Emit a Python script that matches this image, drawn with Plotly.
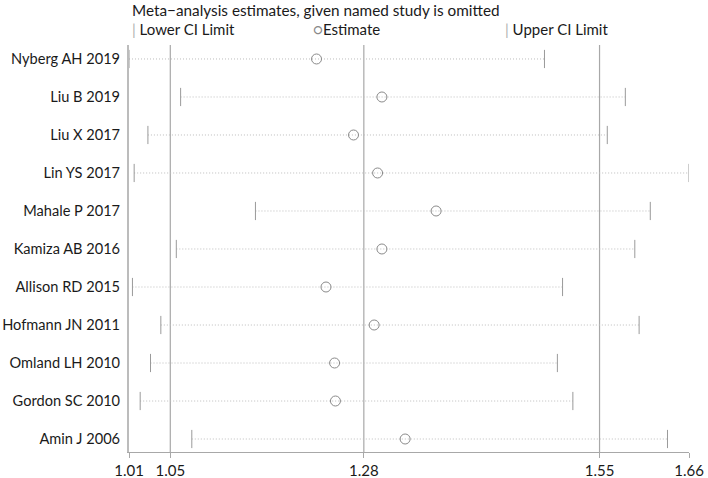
import plotly.graph_objects as go

# ---- data ----
studies = ["Nyberg AH 2019", "Liu B 2019", "Liu X 2017", "Lin YS 2017", "Mahale P 2017",
           "Kamiza AB 2016", "Allison RD 2015", "Hofmann JN 2011", "Omland LH 2010",
           "Gordon SC 2010", "Amin J 2006"]
lower = [1.006, 1.066, 1.028, 1.012, 1.153, 1.061, 1.010, 1.043, 1.031, 1.019, 1.079]
estimate = [1.224, 1.300, 1.267, 1.295, 1.363, 1.300, 1.235, 1.291, 1.245, 1.246, 1.327]
upper = [1.489, 1.583, 1.562, 1.657, 1.612, 1.594, 1.510, 1.599, 1.504, 1.522, 1.632]
overall = [1.054, 1.279, 1.553]          # pooled lower CI, estimate, upper CI
tick_vals = [1.006, 1.054, 1.279, 1.553, 1.657]
tick_text = ["1.01", "1.05", "1.28", "1.55", "1.66"]

FONT = "Lato"
W, H = 708, 478
PLOT_L, PLOT_R, PLOT_T, PLOT_B = 129, 689.5, 45, 452     # target screen pixels
ML, MR = PLOT_L, W - PLOT_R
MT, MB = PLOT_T, H - PLOT_B
PW, PH = PLOT_R - PLOT_L, PLOT_B - PLOT_T

fig = go.Figure()

# dotted connector lines from lower to upper limit
lx, ly = [], []
for s, lo, hi in zip(studies, lower, upper):
    lx += [lo, hi, None]
    ly += [s, s, None]
fig.add_trace(go.Scatter(x=lx, y=ly, mode="lines",
                         line=dict(color="#bdbdbd", width=1, dash="1px,2px"),
                         hoverinfo="skip", showlegend=False))

fig.add_trace(go.Scatter(x=lower, y=studies, mode="markers", name="Lower CI Limit",
                         marker=dict(symbol="line-ns", size=13,
                                     line=dict(color="#9a9a9a", width=1)),
                         showlegend=False))
fig.add_trace(go.Scatter(x=upper, y=studies, mode="markers", name="Upper CI Limit",
                         marker=dict(symbol="line-ns", size=13,
                                     line=dict(color="#9a9a9a", width=1)),
                         showlegend=False))
fig.add_trace(go.Scatter(x=estimate, y=studies, mode="markers", name="Estimate",
                         marker=dict(symbol="circle-open", size=10,
                                     color="#8a8a8a", line=dict(width=1)),
                         showlegend=False))

for v in overall:
    fig.add_shape(type="line", x0=v, x1=v, xref="x", y0=0, y1=1, yref="paper",
                  line=dict(color="#a8a8a8", width=1.2), layer="below")

def px_to_paper_x(px):
    return (px - PLOT_L) / PW

def px_to_paper_y(py):
    return (PLOT_B - py) / PH

fig.add_annotation(text="Meta\u2212analysis estimates, given named study is omitted",
                   x=px_to_paper_x(130), y=px_to_paper_y(10), xref="paper", yref="paper",
                   xanchor="left", yanchor="middle", showarrow=False,
                   font=dict(family=FONT, size=15.3, color="#1a1a1a"))

legend_items = [("<span style='color:#b0b0b0'>|</span> Lower CI Limit", 130),
                ("<span style='color:#8a8a8a'>\u25cb</span>Estimate", 311),
                ("<span style='color:#b0b0b0'>|</span> Upper CI Limit", 503)]
for txt, px in legend_items:
    fig.add_annotation(text=txt, x=px_to_paper_x(px), y=px_to_paper_y(29),
                       xref="paper", yref="paper", xanchor="left", yanchor="middle",
                       showarrow=False, font=dict(family=FONT, size=15, color="#1a1a1a"))

fig.update_xaxes(range=[tick_vals[0], tick_vals[-1]], tickvals=tick_vals, ticktext=tick_text,
                 showgrid=False, zeroline=False, showline=True, linecolor="#a8a8a8",
                 linewidth=1.2, ticks="outside", ticklen=5, tickcolor="#a8a8a8",
                 tickwidth=1.2, automargin=False,
                 tickfont=dict(family=FONT, size=15, color="#1a1a1a"))
fig.update_yaxes(type="category", categoryorder="array", categoryarray=studies,
                 range=[len(studies) - 1 + 0.342, -0.368],
                 showgrid=False, zeroline=False, showline=True, linecolor="#bcbcbc",
                 linewidth=2, ticks="", ticklabelstandoff=4, automargin=False,
                 tickfont=dict(family=FONT, size=14.6, color="#1a1a1a"))

fig.update_layout(width=W, height=H, autosize=False,
                  margin=dict(l=ML, r=MR, t=MT, b=MB, pad=0),
                  paper_bgcolor="white", plot_bgcolor="white",
                  font=dict(family=FONT), showlegend=False)

fig.write_html("out.html", config={"displayModeBar": False},
               post_script="document.body.style.margin='0';document.body.style.padding='0';")
